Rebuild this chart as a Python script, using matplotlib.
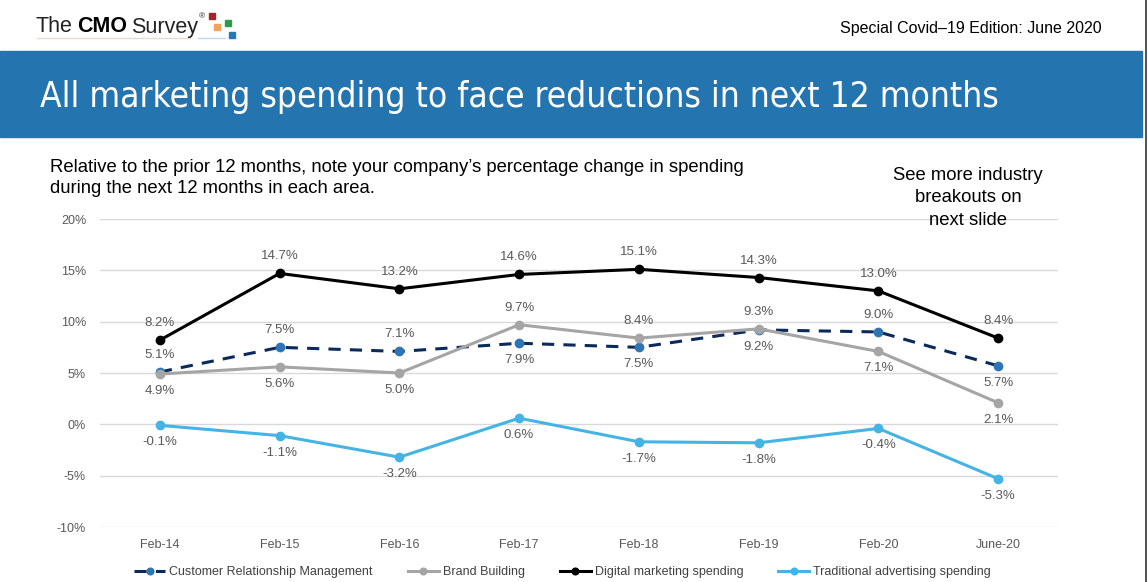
import matplotlib
matplotlib.use("Agg")
import matplotlib.pyplot as plt
from matplotlib.lines import Line2D
from matplotlib.patches import Rectangle
from matplotlib import font_manager
from matplotlib.font_manager import FontProperties

# ---------------- data ----------------
periods = ["Feb-14", "Feb-15", "Feb-16", "Feb-17", "Feb-18", "Feb-19", "Feb-20", "June-20"]
crm = [5.1, 7.5, 7.1, 7.9, 7.5, 9.2, 9.0, 5.7]
brand = [4.9, 5.6, 5.0, 9.7, 8.4, 9.3, 7.1, 2.1]
digital = [8.2, 14.7, 13.2, 14.6, 15.1, 14.3, 13.0, 8.4]
traditional = [-0.1, -1.1, -3.2, 0.6, -1.7, -1.8, -0.4, -5.3]

# label side: +1 above the point, -1 below
crm_side = [1, 1, 1, -1, -1, -1, 1, -1]
brand_side = [-1, -1, -1, 1, 1, 1, -1, -1]
digital_side = [1] * 8
trad_side = [-1] * 8

series_names = ["Customer Relationship Management", "Brand Building",
                "Digital marketing spending", "Traditional advertising spending"]

names = {f.name for f in font_manager.fontManager.ttflist}
base_font = "Liberation Sans" if "Liberation Sans" in names else "DejaVu Sans"
plt.rcParams["font.family"] = [base_font, "DejaVu Sans"]

# pick a narrow face for the banner title if one is installed
title_props = FontProperties(family=base_font)
for fam, stretch in [("Liberation Sans Narrow", "normal"), ("DejaVu Sans", "condensed")]:
    fp = FontProperties(family=fam, stretch=stretch)
    path = font_manager.findfont(fp, fallback_to_default=False) if fam in names else ""
    if "Narrow" in path or "Condensed" in path:
        title_props = fp
        break

W, H = 1148, 582
fig = plt.figure(figsize=(W / 100, H / 100), dpi=100)

def fx(px):
    return px / W

def fy(py):
    return 1 - py / H

# header banner
fig.patches.append(Rectangle((0, fy(137)), fx(1142), (137 - 51) / H,
                             transform=fig.transFigure, color="#2474B0", zorder=0))
title = fig.text(fx(40), fy(97), "All marketing spending to face reductions in next 12 months",
                 color="white", fontproperties=title_props, fontsize=26, va="center", ha="left")
# fit title width to the reference (40px -> 1000px)
r = fig.canvas.get_renderer()
tw = title.get_window_extent(r).width
title.set_fontsize(26 * 960 / tw)

fig.add_artist(Line2D([fx(1146), fx(1146)], [0, 1], transform=fig.transFigure,
                      color="#333333", lw=1.2))

# logo
fig.text(fx(36), fy(27), "The", fontsize=15.5, color="#222222", va="center", ha="left")
fig.text(fx(77), fy(27), "CMO", fontsize=15.5, color="black", weight="bold", va="center", ha="left")
fig.text(fx(131), fy(27), "Survey", fontsize=15.5, color="#222222", va="center", ha="left")
fig.text(fx(199), fy(17), "®", fontsize=6, color="#222222", va="center", ha="left")
for (px, py, c) in [(209, 13, "#A6232A"), (214, 24, "#F2A25E"), (225, 20, "#2E9B4B"), (229, 32, "#2877B8")]:
    fig.patches.append(Rectangle((fx(px), fy(py + 6)), fx(6), 6 / H,
                                 transform=fig.transFigure, color=c))
fig.add_artist(Line2D([fx(37), fx(190)], [fy(38), fy(38)], transform=fig.transFigure,
                      color="#EAD9CF", lw=1))
fig.add_artist(Line2D([fx(198), fx(225)], [fy(38), fy(38)], transform=fig.transFigure,
                      color="#BFD8EA", lw=1))

fig.text(fx(1102), fy(28), "Special Covid\u201319 Edition: June 2020", fontsize=11.5,
         color="black", ha="right", va="center")

# subtitle and side note
fig.text(fx(50), fy(178), "Relative to the prior 12 months, note your company\u2019s percentage change in spending\n"
         "during the next 12 months in each area.", fontsize=13.3, color="black",
         ha="left", va="center", linespacing=1.25)
fig.text(fx(968), fy(198), "See more industry\nbreakouts on\nnext slide", fontsize=13.3,
         color="black", ha="center", va="center", linespacing=1.4)

# chart
ax = fig.add_axes([fx(100), 1 - 527 / H, fx(958), 308 / H])
x = list(range(len(periods)))

styles = [
    (crm, crm_side, dict(color="#0B2A5B", ls=(0, (4, 3)), lw=2.2, marker="o", ms=6,
                         mfc="#2E75B6", mec="#2E75B6")),
    (brand, brand_side, dict(color="#A5A5A5", lw=2.2, marker="o", ms=6, mfc="#A5A5A5", mec="#A5A5A5")),
    (digital, digital_side, dict(color="black", lw=2.2, marker="o", ms=6, mfc="black", mec="black")),
    (traditional, trad_side, dict(color="#45B4E5", lw=2.2, marker="o", ms=6, mfc="#45B4E5", mec="#45B4E5")),
]

handles = []
for (vals, sides, st), name in zip(styles, series_names):
    h, = ax.plot(x, vals, label=name, zorder=3, **st)
    handles.append(h)
    for xi, v, s in zip(x, vals, sides):
        ax.annotate(f"{v:.1f}%", (xi, v), xytext=(0, 17 * s), textcoords="offset pixels",
                    ha="center", va="center", fontsize=9.5, color="#595959")

ax.set_xlim(-0.5, len(periods) - 0.5)
ax.set_ylim(-10, 20)
ax.set_yticks(range(-10, 21, 5))
ax.set_yticklabels([f"{t}%" for t in range(-10, 21, 5)])
ax.set_xticks(x)
ax.set_xticklabels(periods)
ax.tick_params(length=0, labelsize=9, labelcolor="#595959")
ax.tick_params(axis="x", pad=9)
ax.tick_params(axis="y", pad=10)
ax.grid(axis="y", color="#D9D9D9", lw=1)
ax.set_axisbelow(True)
for sp in ax.spines.values():
    sp.set_visible(False)

fig.legend(handles=handles, loc="center", bbox_to_anchor=(0.49, fy(572)), ncol=4,
           frameon=False, fontsize=9, handlelength=2.5, handletextpad=0.3,
           columnspacing=2.8, labelcolor="#404040", markerscale=0.8)

fig.savefig("out.png", dpi=100)
